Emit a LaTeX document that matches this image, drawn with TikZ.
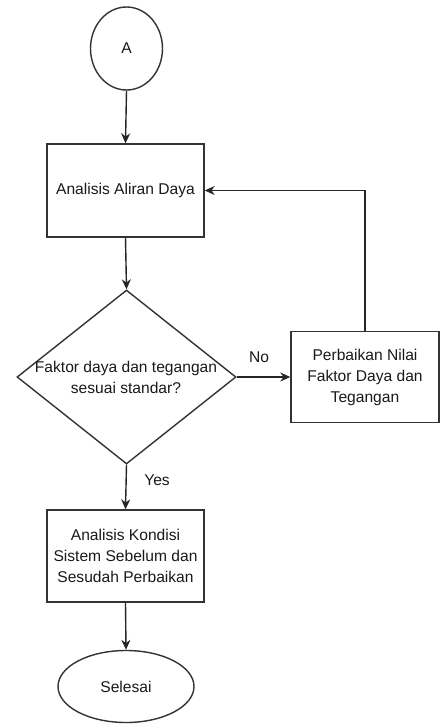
\documentclass[tikz,border=0pt]{standalone}
\usepackage{fontspec}
\setmainfont{Liberation Sans}
\usetikzlibrary{shapes.geometric,arrows.meta}
\begin{document}
\begin{tikzpicture}[x=1pt,y=-1pt,
  every node/.style={font=\fontsize{15.6}{21}\selectfont, text=black!90},
  shapeline/.style={draw=black!80, line width=1.4pt},
  procbox/.style={shapeline, rectangle, inner sep=0pt, align=center},
  conn/.style={draw=black!85, line width=1.4pt, -{Stealth[length=10pt,width=9pt]}},
  lbl/.style={inner sep=0pt}
]
\useasboundingbox (0,0) rectangle (441,724);
\node[shapeline, ellipse, minimum width=72pt, minimum height=83pt, inner sep=0pt] (a) at (126.5,48.5) {A};
\node[procbox, minimum width=157pt, minimum height=93pt] (b1) at (125.5,190.5) {Analisis Aliran Daya};
\node[shapeline, diamond, minimum width=219pt, minimum height=174pt, inner sep=0pt] (d) at (126.5,377) {};
\node[lbl, align=center] (dt) at (126,377.5) {Faktor daya dan tegangan\\sesuai standar?};
\node[procbox, minimum width=148pt, minimum height=91pt] (b2) at (365,377) {Perbaikan Nilai\\Faktor Daya dan\\Tegangan};
\node[procbox, minimum width=157pt, minimum height=92pt] (b3) at (125.5,556) {Analisis Kondisi\\Sistem Sebelum dan\\Sesudah Perbaikan};
\node[shapeline, ellipse, minimum width=136pt, minimum height=72pt, inner sep=0pt] (e) at (126,686.5) {Selesai};
\draw[conn] (a.south) -- (b1.north);
\draw[conn] (b1.south) -- (d.north);
\draw[conn] (d.east) -- (b2.west);
\draw[conn] (b2.north) |- (b1.east);
\draw[conn] (d.south) -- (b3.north);
\draw[conn] (b3.south) -- (e.north);
\node[lbl] (no) at (259,357) {No};
\node[lbl] (yes) at (157,480) {Yes};
\end{tikzpicture}
\end{document}
